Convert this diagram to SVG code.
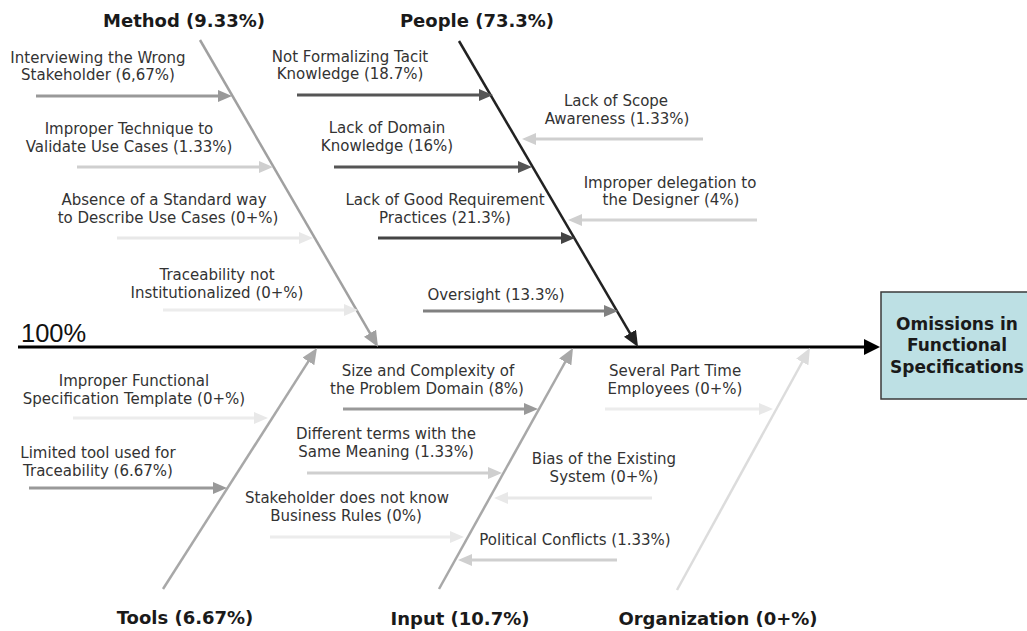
<svg xmlns="http://www.w3.org/2000/svg" width="1027" height="631" viewBox="0 0 1027 631">
<style>
.lbl{font-family:"DejaVu Sans",Verdana,sans-serif;font-size:15px;fill:#333;text-anchor:middle}
.ttl{font-family:"DejaVu Sans",Verdana,sans-serif;font-size:18px;font-weight:bold;fill:#1a1a1a;text-anchor:middle}
.eff{font-family:"DejaVu Sans",Verdana,sans-serif;font-size:17px;font-weight:bold;fill:#1a1a1a;text-anchor:middle}
.sub{fill:none;stroke-width:3}
.bone{fill:none;stroke-width:2.5}
</style>
<defs>
<marker id="m999" markerUnits="userSpaceOnUse" markerWidth="14" markerHeight="12" refX="6" refY="6" orient="auto"><path d="M0,0 L14,6 L0,12 z" fill="#999"/></marker>
<marker id="mccc" markerUnits="userSpaceOnUse" markerWidth="14" markerHeight="12" refX="6" refY="6" orient="auto"><path d="M0,0 L14,6 L0,12 z" fill="#cfcfcf"/></marker>
<marker id="meee" markerUnits="userSpaceOnUse" markerWidth="14" markerHeight="12" refX="6" refY="6" orient="auto"><path d="M0,0 L14,6 L0,12 z" fill="#e8e8e8"/></marker>
<marker id="m555" markerUnits="userSpaceOnUse" markerWidth="14" markerHeight="12" refX="6" refY="6" orient="auto"><path d="M0,0 L14,6 L0,12 z" fill="#555"/></marker>
<marker id="m444" markerUnits="userSpaceOnUse" markerWidth="14" markerHeight="12" refX="6" refY="6" orient="auto"><path d="M0,0 L14,6 L0,12 z" fill="#444"/></marker>
<marker id="m808" markerUnits="userSpaceOnUse" markerWidth="14" markerHeight="12" refX="6" refY="6" orient="auto"><path d="M0,0 L14,6 L0,12 z" fill="#808080"/></marker>
<marker id="bA0" markerUnits="userSpaceOnUse" markerWidth="16" markerHeight="14" refX="8" refY="7" orient="auto"><path d="M0,0 L16,7 L0,14 z" fill="#a0a0a0"/></marker>
<marker id="bAA" markerUnits="userSpaceOnUse" markerWidth="16" markerHeight="14" refX="8" refY="7" orient="auto"><path d="M0,0 L16,7 L0,14 z" fill="#a8a8a8"/></marker>
<marker id="bDD" markerUnits="userSpaceOnUse" markerWidth="16" markerHeight="14" refX="8" refY="7" orient="auto"><path d="M0,0 L16,7 L0,14 z" fill="#dcdcdc"/></marker>
<marker id="b22" markerUnits="userSpaceOnUse" markerWidth="16" markerHeight="14" refX="8" refY="7" orient="auto"><path d="M0,0 L16,7 L0,14 z" fill="#222"/></marker>
<marker id="b00" markerUnits="userSpaceOnUse" markerWidth="16" markerHeight="16" refX="6" refY="8" orient="auto"><path d="M0,0 L16,8 L0,16 z" fill="#000"/></marker>
</defs>

<g id="connectors">
  <line x1="18" y1="347" x2="870" y2="347" stroke="#000" stroke-width="3" marker-end="url(#b00)"/>
  <line class="bone" x1="200" y1="40" x2="374" y2="340.1" stroke="#a0a0a0" marker-end="url(#bA0)"/>
  <line class="bone" x1="459" y1="41" x2="634" y2="340.1" stroke="#222" stroke-width="3" marker-end="url(#b22)"/>
  <line class="bone" x1="163" y1="589" x2="312.7" y2="354.7" stroke="#a8a8a8" marker-end="url(#bAA)"/>
  <line class="bone" x1="439" y1="589" x2="569.1" y2="355" stroke="#a8a8a8" marker-end="url(#bAA)"/>
  <line class="bone" x1="677" y1="590" x2="806.1" y2="355" stroke="#dcdcdc" marker-end="url(#bDD)"/>
  <line class="sub" x1="36" y1="96" x2="224" y2="96" stroke="#999" marker-end="url(#m999)"/>
  <line class="sub" x1="77" y1="167" x2="265" y2="167" stroke="#cfcfcf" marker-end="url(#mccc)"/>
  <line class="sub" x1="117" y1="238" x2="305" y2="238" stroke="#e8e8e8" marker-end="url(#meee)"/>
  <line class="sub" x1="163" y1="310" x2="350" y2="310" stroke="#ececec" marker-end="url(#meee)"/>
  <line class="sub" x1="297" y1="95" x2="485" y2="95" stroke="#555" marker-end="url(#m555)"/>
  <line class="sub" x1="334" y1="167" x2="524" y2="167" stroke="#555" marker-end="url(#m555)"/>
  <line class="sub" x1="378" y1="238" x2="567" y2="238" stroke="#444" marker-end="url(#m444)"/>
  <line class="sub" x1="423" y1="311" x2="610" y2="311" stroke="#808080" marker-end="url(#m808)"/>
  <line class="sub" x1="703" y1="139" x2="530" y2="139" stroke="#cfcfcf" marker-end="url(#mccc)"/>
  <line class="sub" x1="757" y1="220" x2="576" y2="220" stroke="#d3d3d3" marker-end="url(#mccc)"/>
  <line class="sub" x1="73" y1="418" x2="260" y2="418" stroke="#ececec" marker-end="url(#meee)"/>
  <line class="sub" x1="29" y1="488" x2="219" y2="488" stroke="#999" marker-end="url(#m999)"/>
  <line class="sub" x1="343" y1="409" x2="530" y2="409" stroke="#999" marker-end="url(#m999)"/>
  <line class="sub" x1="307" y1="473" x2="494" y2="473" stroke="#cfcfcf" marker-end="url(#mccc)"/>
  <line class="sub" x1="270" y1="537" x2="456" y2="537" stroke="#ececec" marker-end="url(#meee)"/>
  <line class="sub" x1="652" y1="498" x2="502" y2="498" stroke="#e8e8e8" marker-end="url(#meee)"/>
  <line class="sub" x1="617" y1="560" x2="466" y2="560" stroke="#cfcfcf" marker-end="url(#mccc)"/>
  <line class="sub" x1="605" y1="409" x2="765" y2="409" stroke="#ececec" marker-end="url(#meee)"/>
</g>

<text x="21" y="342" font-family="Liberation Sans, Arial, sans-serif" font-size="25.5" fill="#111">100%</text>

<g id="effect">
  <rect x="881" y="292" width="150" height="107" fill="#bde0e4" stroke="#3a3a3a" stroke-width="1.5"/>
  <text class="eff" x="957" y="330">Omissions in</text>
  <text class="eff" x="957" y="351">Functional</text>
  <text class="eff" x="957" y="373">Specifications</text>
</g>

<g id="method">
  <text class="ttl" x="184" y="27">Method (9.33%)</text>
  <g id="m1"><text class="lbl" x="98" y="62.5">Interviewing the Wrong</text><text class="lbl" x="98" y="80">Stakeholder (6,67%)</text></g>
  <g id="m2"><text class="lbl" x="129" y="133.5">Improper Technique to</text><text class="lbl" x="129" y="151.5">Validate Use Cases (1.33%)</text></g>
  <g id="m3"><text class="lbl" x="164" y="204.5">Absence of a Standard way</text><text class="lbl" x="168" y="222.5">to Describe Use Cases (0+%)</text></g>
  <g id="m4"><text class="lbl" x="217" y="279.5">Traceability not</text><text class="lbl" x="217" y="297.5">Institutionalized (0+%)</text></g>
</g>

<g id="people">
  <text class="ttl" x="477" y="27">People (73.3%)</text>
  <g id="p1"><text class="lbl" x="350" y="61.5">Not Formalizing Tacit</text><text class="lbl" x="350" y="78.5">Knowledge (18.7%)</text></g>
  <g id="p2"><text class="lbl" x="387" y="132.5">Lack of Domain</text><text class="lbl" x="387" y="150.5">Knowledge (16%)</text></g>
  <g id="p3"><text class="lbl" x="445" y="204.5">Lack of Good Requirement</text><text class="lbl" x="445" y="222.5">Practices (21.3%)</text></g>
  <g id="p4"><text class="lbl" x="496" y="299.5">Oversight (13.3%)</text></g>
  <g id="p5"><text class="lbl" x="616" y="105.5">Lack of Scope</text><text class="lbl" x="617" y="123.5">Awareness (1.33%)</text></g>
  <g id="p6"><text class="lbl" x="670" y="187.5">Improper delegation to</text><text class="lbl" x="671" y="204.5">the Designer (4%)</text></g>
</g>

<g id="tools">
  <text class="ttl" x="185" y="624">Tools (6.67%)</text>
  <g id="t1"><text class="lbl" x="134" y="385.5">Improper Functional</text><text class="lbl" x="134" y="403.5">Specification Template (0+%)</text></g>
  <g id="t2"><text class="lbl" x="98" y="457.5">Limited tool used for</text><text class="lbl" x="98" y="475.5">Traceability (6.67%)</text></g>
</g>

<g id="input">
  <text class="ttl" x="460" y="625">Input (10.7%)</text>
  <g id="i1"><text class="lbl" x="428" y="375.5">Size and Complexity of</text><text class="lbl" x="427" y="393.5">the Problem Domain (8%)</text></g>
  <g id="i2"><text class="lbl" x="386" y="438.5">Different terms with the</text><text class="lbl" x="386" y="456.5">Same Meaning (1.33%)</text></g>
  <g id="i3"><text class="lbl" x="347" y="502.5">Stakeholder does not know</text><text class="lbl" x="346" y="520.5">Business Rules (0%)</text></g>
  <g id="i4"><text class="lbl" x="604" y="463.5">Bias of the Existing</text><text class="lbl" x="604" y="482">System (0+%)</text></g>
  <g id="i5"><text class="lbl" x="575" y="544.5">Political Conflicts (1.33%)</text></g>
</g>

<g id="organization">
  <text class="ttl" x="718" y="625">Organization (0+%)</text>
  <g id="o1"><text class="lbl" x="675" y="375.5">Several Part Time</text><text class="lbl" x="675" y="393.5">Employees (0+%)</text></g>
</g>
</svg>
